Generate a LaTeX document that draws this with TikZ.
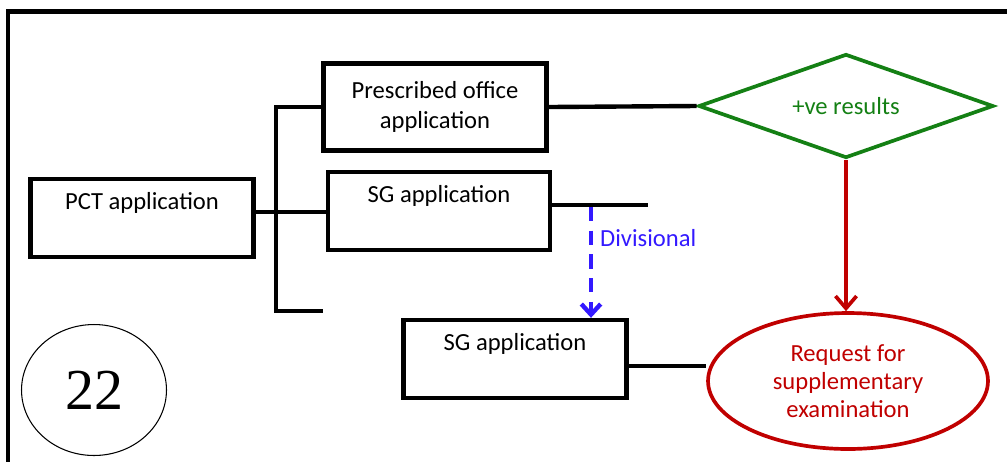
\documentclass[tikz,border=0pt]{standalone}
\usepackage{fontspec}
\setmainfont{Carlito}
\newfontfamily\numfont{Liberation Serif}
\usepackage{tikz}
\usetikzlibrary{shapes.geometric}
\usetikzlibrary{arrows.meta,positioning}
\definecolor{resgreen}{RGB}{20,128,20}
\definecolor{reqred}{RGB}{192,0,0}
\definecolor{divblue}{RGB}{51,25,255}
\tikzstyle{appbox}=[draw, line width=2.5pt, inner sep=0pt, minimum width=4.46cm, anchor=base, text height=0.6cm, text depth=0.96cm, font=\fontsize{14}{17}\selectfont]
\tikzstyle{twobox}=[draw, line width=2.5pt, inner sep=0pt, minimum width=4.46cm, minimum height=1.74cm, align=center, font=\fontsize{14}{17}\selectfont]
\tikzstyle{link}=[line width=2.5pt]
\tikzstyle{decide}=[diamond, aspect=2.84, draw=resgreen, text=resgreen, line width=2.1pt, inner sep=0pt, minimum width=5.9cm, minimum height=2.08cm, font=\fontsize{14}{17}\selectfont]
\tikzstyle{request}=[ellipse, draw=reqred, text=reqred, line width=2.1pt, inner sep=0pt, minimum width=5.6cm, minimum height=2.72cm, align=center, font=\fontsize{14}{16}\selectfont]

\begin{document}
\begin{tikzpicture}[x=0.02cm, y=-0.02cm]
\useasboundingbox (0,0) rectangle (1007,461);
% frame
\draw[line width=2.5pt] (8,475) -- (8,11.5) -- (1020,11.5);
%
  \node[appbox] (pct) at (142,209) {PCT application};
  \node[twobox] (presc) at (435,107) {Prescribed office\\application};
  \node[appbox, minimum width=4.44cm] (sg) at (439,202) {SG application};
  \node[appbox] (sg2) at (515,350) {SG application};
  \node[decide] (res) at (846,106) {+ve results};
  \node[request] (req) at (848,381) {Request for\\supplementary\\examination};
  \node[ellipse, draw, line width=0.6pt, minimum width=2.9cm, minimum height=2.62cm, inner sep=0pt, font=\numfont\fontsize{33}{36}\selectfont] (num) at (94,390) {22};
%
  \coordinate (jn) at (276,212);
  \coordinate (stub) at (323,311);
  \coordinate (sgend) at (648,205);
  \coordinate (divtop) at (591,207);
%
  \draw[link] (pct.east |- jn) -- (jn) -- (jn -| sg.west);
  \draw[link] (presc.west) -- (jn |- presc.west) -- (jn |- stub) -- (stub);
  \draw[link] (presc.east) -- (res.west);
  \draw[link] (sg.east |- sgend) -- (sgend);
  \draw[link] ([yshift=-0.14cm]sg2.east) -- ([yshift=-0.14cm]sg2.east -| req.west);
  \draw[reqred, line width=2.1pt, -{Straight Barb[length=7pt, width=12pt]}] (res.south) -- (res.south |- req.north);
  \draw[divblue, line width=2.5pt, dash pattern=on 8pt off 5.5pt, -{Straight Barb[length=6pt, width=11pt]}] (divtop) -- (divtop |- sg2.north)
    node[pos=0.28, right, inner sep=4pt, text=divblue, font=\fontsize{14}{17}\selectfont] {Divisional};
%
\end{tikzpicture}
\end{document}
